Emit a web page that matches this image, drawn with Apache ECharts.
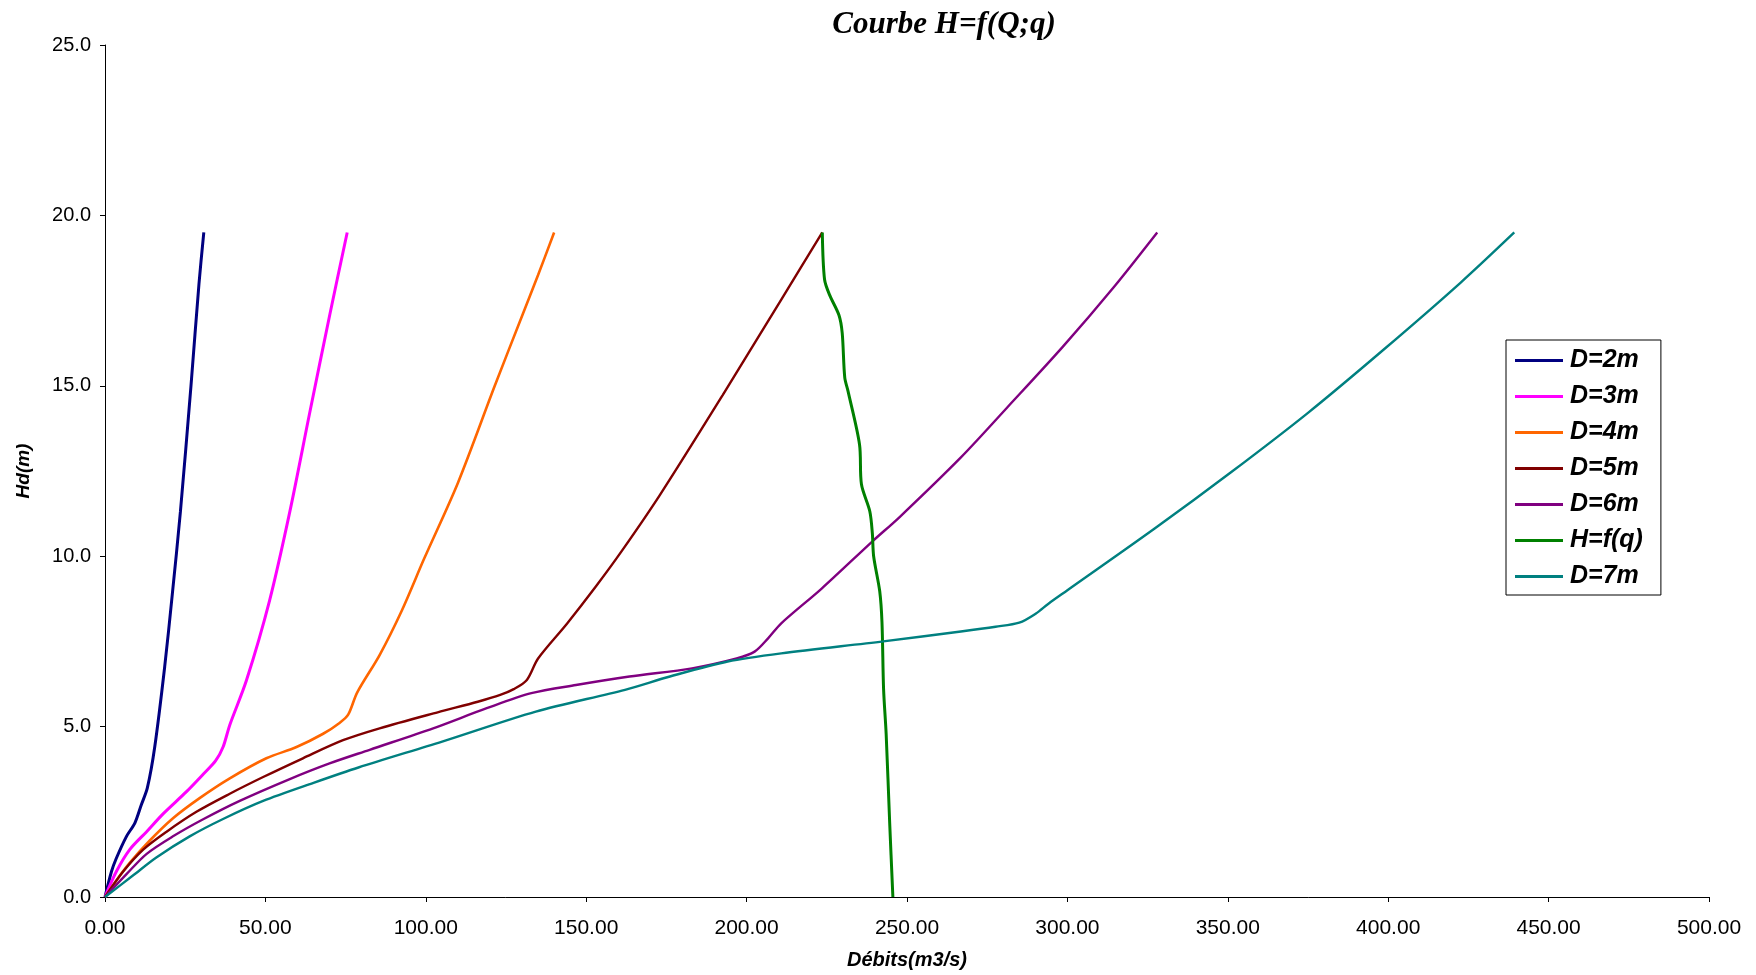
<!DOCTYPE html>
<html>
<head>
<meta charset="utf-8">
<script src="https://cdn.jsdelivr.net/npm/echarts@6/dist/echarts.min.js"></script>
<style>
  html, body { margin: 0; padding: 0; background: #ffffff; }
  #chart { width: 1756px; height: 975px; }
</style>
</head>
<body>
<div id="chart"></div>
<script>
// Débit Q (m3/s) vs charge Hd (m), one curve per diameter plus H=f(q)
const d2m = [[0,0],[2.0,0.74],[3.5,1.13],[6.7,1.78],[9.3,2.17],[11.3,2.7],[13.2,3.2],[15.5,4.4],[18.6,6.75],[21.0,8.9],[23.5,11.3],[26.8,15.0],[29.3,18.0],[30.8,19.5]];
const d3m = [[0,0],[3.5,0.74],[7.7,1.39],[12.9,1.91],[18.1,2.44],[25.4,3.09],[30.6,3.6],[34.5,4.0],[36.8,4.4],[38.9,5.05],[44.1,6.36],[51.3,8.7],[57.6,11.3],[63.8,14.2],[70.1,17.1],[75.5,19.5]];
const d4m = [[0,0],[3.5,0.48],[7.7,1.0],[13.9,1.65],[21.2,2.31],[29.5,2.9],[38.9,3.48],[50.3,4.07],[59.7,4.4],[68.0,4.79],[73.0,5.1],[75.8,5.35],[78.6,6.0],[85.6,7.1],[92.5,8.4],[99.5,9.93],[110.0,12.15],[121.5,15.0],[130.0,17.05],[135.0,18.25],[140.0,19.5]];
const d5m = [[0,0],[5.6,0.74],[11.9,1.39],[19.1,1.91],[28.5,2.5],[38.9,3.03],[49.3,3.52],[61.7,4.07],[74.2,4.6],[85.6,4.95],[103.7,5.42],[116.2,5.73],[123.2,5.93],[127.4,6.1],[131.5,6.37],[135.0,7.0],[144.0,8.02],[153.0,9.11],[161.0,10.14],[173.0,11.8],[192.5,14.72],[211.0,17.56],[223.6,19.5]];
const d6m = [[0,0],[6.7,0.67],[12.9,1.26],[21.2,1.78],[30.6,2.28],[42.0,2.82],[57.6,3.46],[70.0,3.92],[82.5,4.32],[102.3,4.95],[119.0,5.54],[132.9,5.98],[146.8,6.22],[163.5,6.47],[183.0,6.71],[196.9,7.0],[202.5,7.2],[206.7,7.59],[210.8,8.03],[223.4,9.05],[239.4,10.45],[247.7,11.15],[266.8,12.9],[281.1,14.35],[298.6,16.15],[314.5,17.9],[328.0,19.5]];
const hfq = [[223.6,19.5],[224.3,18.12],[225.9,17.66],[228.8,17.07],[229.8,16.55],[230.6,15.24],[231.6,14.85],[235.2,13.28],[235.8,12.11],[238.4,11.32],[239.2,10.67],[239.6,10.0],[241.5,8.97],[242.2,8.06],[242.7,6.1],[243.5,4.79],[244.6,2.18],[245.6,0]];
const d7m = [[0,0],[8.7,0.63],[16.0,1.16],[26.4,1.78],[36.8,2.29],[49.3,2.82],[65.0,3.35],[79.0,3.8],[105.1,4.56],[134.3,5.44],[162.1,6.08],[176.1,6.47],[194.1,6.91],[210.8,7.15],[242.6,7.5],[266.8,7.79],[277.6,7.93],[285.0,8.05],[290.2,8.32],[294.0,8.6],[300.0,9.0],[327.2,10.81],[351.1,12.47],[374.9,14.2],[398.8,16.08],[422.6,18.03],[439.3,19.5]];

const seriesNames = ['D=2m', 'D=3m', 'D=4m', 'D=5m', 'D=6m', 'H=f(q)', 'D=7m'];
const seriesData = [d2m, d3m, d4m, d5m, d6m, hfq, d7m];
const seriesColors = ['#000080', '#FF00FF', '#FF6600', '#800000', '#800080', '#008000', '#008080'];
const seriesWidths = [3, 3, 2.6, 2.4, 2.4, 3, 2.4];

const chart = echarts.init(document.getElementById('chart'), null, { renderer: 'canvas' });

const series = seriesNames.map((name, i) => ({
  name: name,
  type: 'line',
  data: seriesData[i],
  smooth: 0.3,
  symbol: 'none',
  lineStyle: { color: seriesColors[i], width: seriesWidths[i] },
  itemStyle: { color: seriesColors[i] },
  z: 2
}));

chart.setOption({
  animation: false,
  backgroundColor: '#ffffff',
  title: {
    text: 'Courbe H=f(Q;q)',
    left: 939,
    top: 4,
    textAlign: 'center',
    textStyle: {
      fontFamily: 'Liberation Serif',
      fontStyle: 'italic',
      fontWeight: 'bold',
      fontSize: 31,
      color: '#000000'
    }
  },
  legend: {
    orient: 'vertical',
    left: 1506,
    top: 340,
    data: seriesNames,
    icon: 'rect',
    itemWidth: 48,
    itemHeight: 3,
    itemGap: 11,
    padding: [8, 18, 6, 9],
    borderColor: '#000000',
    borderWidth: 1,
    backgroundColor: '#ffffff',
    textStyle: {
      fontFamily: 'Liberation Sans',
      fontStyle: 'italic',
      fontWeight: 'bold',
      fontSize: 25,
      lineHeight: 23,
      color: '#000000',
      padding: [0, 0, 0, 2]
    }
  },
  grid: { left: 105, right: 47, top: 45, bottom: 76, containLabel: false },
  xAxis: {
    type: 'value',
    min: 0,
    max: 500,
    interval: 50,
    name: 'Débits(m3/s)',
    nameLocation: 'middle',
    nameGap: 53,
    nameTextStyle: {
      fontFamily: 'Liberation Sans',
      fontStyle: 'italic',
      fontWeight: 'bold',
      fontSize: 20,
      color: '#000000'
    },
    axisLine: { show: true, lineStyle: { color: '#000000', width: 1 } },
    axisTick: { show: true, inside: false, length: 5, lineStyle: { color: '#000000' } },
    splitLine: { show: false },
    axisLabel: {
      margin: 21,
      fontFamily: 'Liberation Sans',
      fontSize: 21,
      color: '#000000',
      formatter: v => v.toFixed(2)
    }
  },
  yAxis: {
    type: 'value',
    min: 0,
    max: 25,
    interval: 5,
    name: 'Hd(m)',
    nameLocation: 'middle',
    nameGap: 72,
    nameRotate: 90,
    nameTextStyle: {
      fontFamily: 'Liberation Sans',
      fontStyle: 'italic',
      fontWeight: 'bold',
      fontSize: 19,
      color: '#000000'
    },
    axisLine: { show: true, lineStyle: { color: '#000000', width: 1 } },
    axisTick: { show: true, inside: false, length: 5, lineStyle: { color: '#000000' } },
    splitLine: { show: false },
    axisLabel: {
      margin: 14,
      fontFamily: 'Liberation Sans',
      fontSize: 20,
      color: '#000000',
      formatter: v => v.toFixed(1)
    }
  },
  series: series
});
</script>
</body>
</html>
